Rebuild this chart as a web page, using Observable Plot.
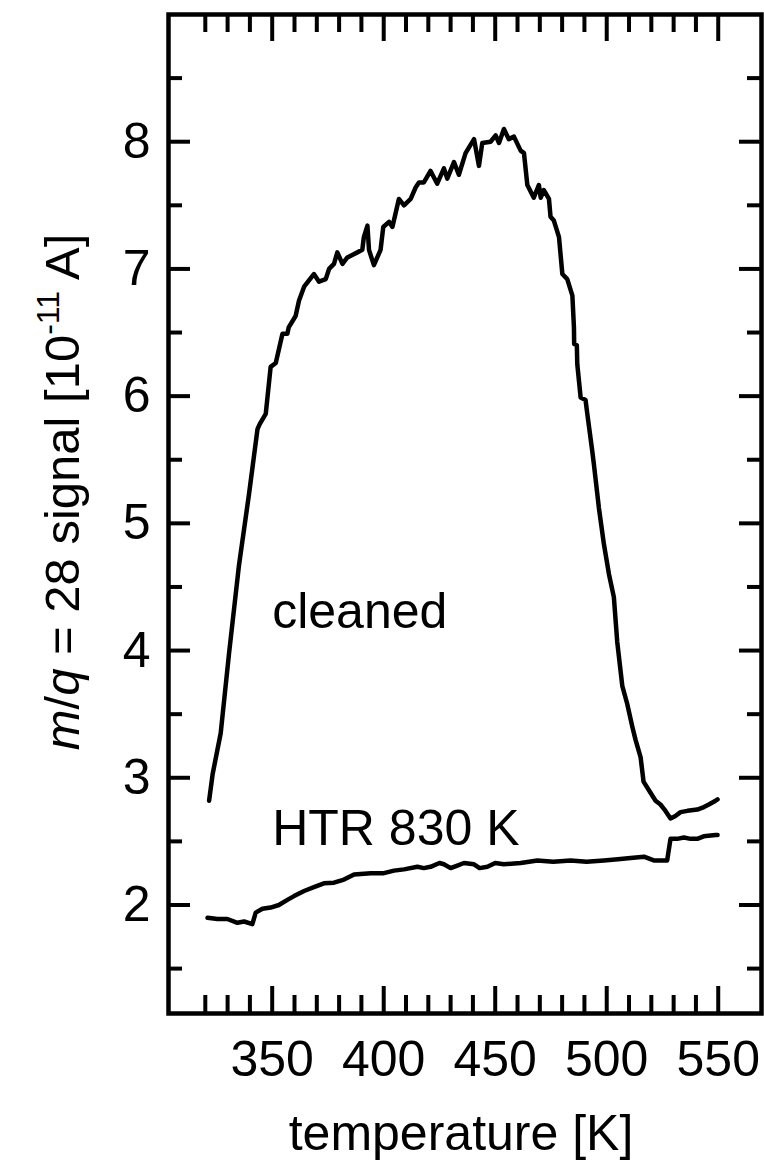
<!DOCTYPE html>
<html><head><meta charset="utf-8">
<script src="https://cdn.jsdelivr.net/npm/d3@7"></script>
<script src="https://cdn.jsdelivr.net/npm/@observablehq/plot@0.6"></script>
<style>
html,body{margin:0;padding:0;background:#fff}
#chart svg{display:block}
</style>
</head><body><div id="chart"></div>
<script>
// ---- data ----
const cleanedT = [321.7,323.3,326.9,330.6,335.1,339.6,343.4,344.4,347.1,349.3,351.6,354.6,356.8,357.4,360.5,362.0,364.3,366.5,368.7,371.0,374.0,375.5,377.7,379.2,381.5,383.7,385.9,388.2,390.4,391.1,392.7,393.4,395.6,398.6,399.8,402.4,403.9,406.8,409.1,412.1,414.3,415.8,418.0,421.0,424.0,427.0,428.5,431.5,433.7,436.7,440.5,442.7,444.2,447.9,450.2,451.7,453.9,456.1,458.4,461.4,462.9,464.4,467.3,469.6,470.4,471.8,474.1,474.8,476.3,478.6,480.1,482.3,484.6,485.3,485.4,486.6,486.8,488.3,490.5,491.3,493.5,494.2,496.5,498.7,501.0,503.2,504.7,507.0,509.2,511.5,512.9,515.2,516.5,519.0,521.9,524.1,525.9,528.6,530.8,533.1,536.2,540.6,543.6,545.8,548.8,549.7];
const cleanedS = [2.82,3.03,3.35,3.97,4.67,5.23,5.74,5.78,5.86,6.23,6.26,6.49,6.49,6.54,6.63,6.75,6.86,6.91,6.96,6.90,6.92,7.00,7.04,7.13,7.04,7.09,7.11,7.13,7.15,7.25,7.34,7.15,7.03,7.15,7.33,7.37,7.33,7.55,7.50,7.55,7.64,7.68,7.68,7.77,7.67,7.79,7.71,7.84,7.74,7.91,8.02,7.81,7.99,8.00,8.05,7.99,8.10,8.02,8.04,7.93,7.91,7.66,7.56,7.66,7.56,7.62,7.55,7.41,7.38,7.25,6.96,6.92,6.79,6.54,6.41,6.40,6.25,5.99,5.97,5.86,5.57,5.47,5.12,4.84,4.60,4.42,4.07,3.72,3.58,3.40,3.30,3.16,2.97,2.90,2.82,2.79,2.75,2.68,2.70,2.73,2.74,2.75,2.77,2.79,2.82,2.83];

const htrT = [321.0,325.4,329.9,334.4,337.4,341.1,342.6,345.6,349.3,353.0,356.8,359.8,364.3,368.7,373.2,377.7,382.2,386.7,394.2,400.1,404.6,409.1,415.1,418.0,421.0,425.0,427.0,430.0,433.0,436.0,440.5,443.0,446.5,450.0,453.9,461.4,468.9,476.0,483.8,491.0,498.7,505.0,510.7,516.7,521.1,527.1,528.6,531.6,534.6,537.6,540.6,543.5,548.8,549.7];
const htrS = [1.90,1.89,1.89,1.86,1.87,1.85,1.94,1.97,1.98,2.00,2.04,2.07,2.11,2.14,2.17,2.175,2.20,2.24,2.25,2.25,2.27,2.28,2.30,2.29,2.30,2.33,2.32,2.29,2.31,2.33,2.32,2.29,2.30,2.33,2.32,2.33,2.35,2.34,2.35,2.34,2.35,2.36,2.37,2.38,2.35,2.35,2.52,2.52,2.53,2.52,2.52,2.54,2.55,2.55];

const xMajorTicks = [350, 400, 450, 500, 550];
const xTickLabels = ["350", "400", "450", "500", "550"];
const xMinorTicks = [320,330,340,360,370,380,390,410,420,430,440,460,470,480,490,510,520,530,540];
const yMajorTicks = [2, 3, 4, 5, 6, 7, 8];
const yTickLabels = ["2", "3", "4", "5", "6", "7", "8"];
const yMinorTicks = [1.5, 2.5, 3.5, 4.5, 5.5, 6.5, 7.5, 8.5];
const xDomain = [303.5, 569.4];
const yDomain = [1.147, 9];
const annotations = [
  {t: 350, s: 4.18, label: "cleaned"},
  {t: 350, s: 2.47, label: "HTR 830 K"}
];
const xTitle = "temperature [K]";
const yTitle = "m/q = 28 signal [10-11 A]";

// ---- layout ----
const W = 764, H = 1163;
const mL = 168, mR = 3, mT = 14, mB = 150;
const innerW = W - mL - mR, innerH = H - mT - mB;
const FONT = "'Liberation Sans', Arial, Helvetica, sans-serif";

const cleaned = cleanedT.map((t, i) => ({t, s: cleanedS[i]}));
const htr = htrT.map((t, i) => ({t, s: htrS[i]}));

const chart = Plot.plot({
  width: W, height: H,
  marginLeft: mL, marginRight: mR, marginTop: mT, marginBottom: mB,
  style: {fontFamily: FONT, background: "#fff", color: "#000"},
  x: {domain: xDomain, axis: null},
  y: {domain: yDomain, axis: null},
  marks: [
    Plot.line(cleaned, {x: "t", y: "s", stroke: "#000", strokeWidth: 4.5}),
    Plot.line(htr, {x: "t", y: "s", stroke: "#000", strokeWidth: 4.5}),
    // ticks, inward, on all four sides
    Plot.tickX(xMajorTicks, {x: d => d, strokeWidth: 4, strokeLinecap: "butt", insetTop: innerH - 27}),
    Plot.tickX(xMajorTicks, {x: d => d, strokeWidth: 4, strokeLinecap: "butt", insetBottom: innerH - 27}),
    Plot.tickX(xMinorTicks, {x: d => d, strokeWidth: 4, strokeLinecap: "butt", insetTop: innerH - 18}),
    Plot.tickX(xMinorTicks, {x: d => d, strokeWidth: 4, strokeLinecap: "butt", insetBottom: innerH - 18}),
    Plot.tickY(yMajorTicks, {y: d => d, strokeWidth: 4, strokeLinecap: "butt", insetRight: innerW - 22}),
    Plot.tickY(yMajorTicks, {y: d => d, strokeWidth: 4, strokeLinecap: "butt", insetLeft: innerW - 22}),
    Plot.tickY(yMinorTicks, {y: d => d, strokeWidth: 4, strokeLinecap: "butt", insetRight: innerW - 14}),
    Plot.tickY(yMinorTicks, {y: d => d, strokeWidth: 4, strokeLinecap: "butt", insetLeft: innerW - 14}),
    Plot.frame({stroke: "#000", strokeWidth: 4.5}),
    // tick labels
    Plot.text(xMajorTicks, {x: d => d, text: (d, i) => xTickLabels[i], frameAnchor: "bottom", dy: 62, lineAnchor: "bottom", fontSize: 50, fill: "#000"}),
    Plot.text(yMajorTicks, {y: d => d, text: (d, i) => yTickLabels[i], frameAnchor: "left", dx: -18, textAnchor: "end", lineAnchor: "middle", fontSize: 50, fill: "#000"}),
    // annotations
    Plot.text(annotations, {x: "t", y: "s", text: "label", textAnchor: "start", lineAnchor: "bottom", fontSize: 50, fill: "#000"}),
    // axis titles
    Plot.text([xTitle], {text: d => d, frameAnchor: "bottom", textAnchor: "middle", dx: -4, dy: 136, lineAnchor: "bottom", fontSize: 50, fill: "#000"}),
    Plot.text([yTitle], {text: d => d, frameAnchor: "left", textAnchor: "middle", rotate: -90, dx: -90, dy: -22, lineAnchor: "bottom", fontSize: 49, fill: "#000"})
  ]
});

// rich formatting for the y title (italic m and q, superscript exponent)
const yt = Array.from(chart.querySelectorAll("text")).find(e => e.textContent.includes("signal"));
if (yt) {
  const sel = d3.select(yt);
  sel.text(null);
  sel.append("tspan").attr("font-style", "italic").text("m");
  sel.append("tspan").text("/");
  sel.append("tspan").attr("font-style", "italic").text("q");
  sel.append("tspan").text(" = 28 signal [10");
  sel.append("tspan").attr("dy", -20).attr("font-size", 32).text("-11");
  sel.append("tspan").attr("dy", 20).text(" A]");
}

document.getElementById("chart").appendChild(chart);
</script>
</body></html>
